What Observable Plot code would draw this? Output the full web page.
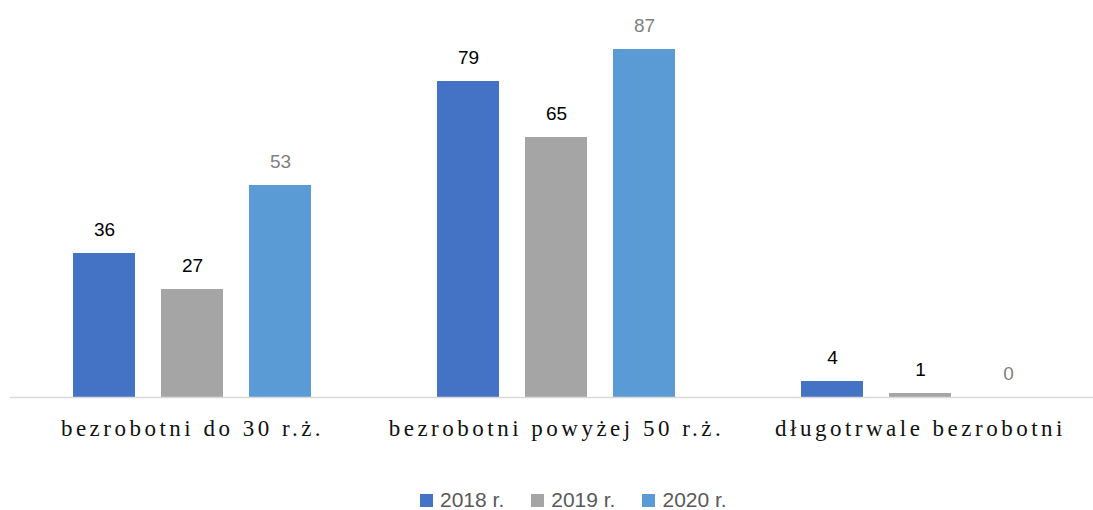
<!DOCTYPE html>
<html><head><meta charset="utf-8">
<script src="https://cdn.jsdelivr.net/npm/d3@7"></script>
<script src="https://cdn.jsdelivr.net/npm/@observablehq/plot@0.6"></script>
<style>
html,body{margin:0;padding:0;background:#fff;overflow:hidden;width:1093px;height:510px}
#chart{position:relative;width:1093px;height:510px;overflow:hidden}
#chart svg{display:block;overflow:hidden}
#legend{position:absolute;left:420px;top:488px;height:24px;display:flex;align-items:center;font-family:"Liberation Sans",sans-serif;font-size:21px;color:#595959;white-space:nowrap}
#legend .item{display:flex;align-items:center;margin-right:27px}
#legend .sw{width:13px;height:13px;margin-right:7px}
</style></head>
<body><div id="chart"></div>
<script>
const categories = ["bezrobotni do 30 r.ż.", "bezrobotni powyżej 50 r.ż.", "długotrwale bezrobotni"];
const years = ["2018 r.", "2019 r.", "2020 r."];
const values2018 = [36, 79, 4];
const values2019 = [27, 65, 1];
const values2020 = [53, 87, 0];
const barColors = ["#4472c4", "#a5a5a5", "#5b9bd5"];
const labelColors = ["#000000", "#000000", "#7f7f7f"];

const seriesValues = [values2018, values2019, values2020];
const data = [];
categories.forEach((c, i) => years.forEach((y, j) => data.push({category: c, year: y, value: seriesValues[j][i]})));

const labelMarks = years.map((yr, j) => Plot.text(data.filter(d => d.year === yr), {
  fx: "category", x: "year", y: "value", text: d => String(d.value),
  dy: -24, fill: labelColors[j], fontSize: 19, fontFamily: "Liberation Sans"
}));

const plot = Plot.plot({
  width: 1093, height: 470,
  marginTop: 0, marginBottom: 73, marginLeft: 0, marginRight: 0,
  style: {background: "#fff", overflow: "hidden"},
  fx: {domain: categories, range: [10, 1102], padding: 0, label: null, axis: null},
  x: {domain: years, range: [63, 301], paddingInner: 26 / 88, paddingOuter: 0, axis: null},
  y: {domain: [0, 90], range: [397, 37], axis: null},
  color: {domain: years, range: barColors},
  marks: [
    Plot.barY(data, {fx: "category", x: "year", y: "value", fill: "year"}),
    Plot.ruleY([0], {stroke: "#d9d9d9", strokeWidth: 1.5}),
    ...labelMarks,
    Plot.axisFx({anchor: "bottom", tickSize: 0, tickPadding: 22, fontSize: 23, fontFamily: "Liberation Serif", fill: "#111", label: null})
  ]
});
d3.select(plot).selectAll('g[aria-label^="fx-axis"] text').attr("letter-spacing", "3.5px").attr("font-size", "23px");
document.getElementById("chart").appendChild(plot);

const legend = document.createElement("div");
legend.id = "legend";
years.forEach((y, j) => {
  const it = document.createElement("div");
  it.className = "item";
  const sw = document.createElement("span");
  sw.className = "sw";
  sw.style.background = barColors[j];
  const t = document.createElement("span");
  t.textContent = y;
  it.appendChild(sw); it.appendChild(t);
  legend.appendChild(it);
});
document.getElementById("chart").appendChild(legend);
</script>
</body></html>
